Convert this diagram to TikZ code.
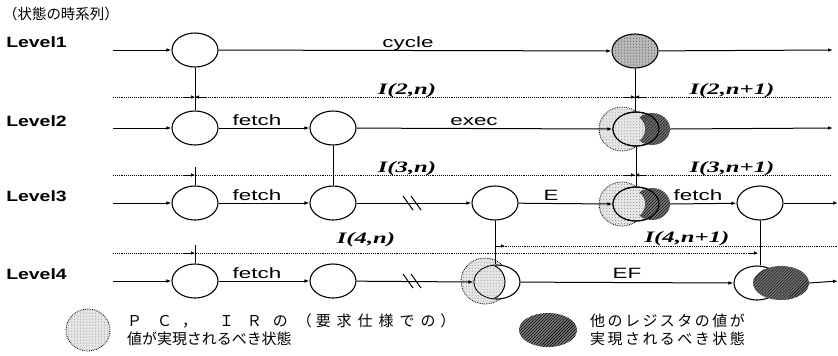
\documentclass[tikz,border=0pt]{standalone}
\usepackage{fontspec}
\setmainfont{Liberation Serif}
\newfontfamily\labfont{Liberation Sans}
\newfontfamily\cjk{Noto Sans CJK JP}
\usetikzlibrary{shapes.geometric,arrows.meta,patterns}
\begin{document}
\begin{tikzpicture}[x=1bp,y=-1bp,
  st/.style={ellipse,draw,line width=1.1bp,minimum width=46bp,minimum height=34bp,inner sep=0pt,fill=white},
  lightfill/.style={fill=black!10,postaction={pattern=dots,pattern color=black!45}},
  midfill/.style={fill=black!28,postaction={pattern=dots,pattern color=black!70}},
  darkfill/.style={fill=black!55,postaction={pattern=north east lines,pattern color=black}},
  dotc/.style={ellipse,draw,densely dotted,line width=0.8bp,inner sep=0pt,lightfill},
  darkell/.style={ellipse,inner sep=0pt,darkfill},
  conn/.style={line width=1bp,-{Latex[length=5bp,width=3.6bp]}},
  plain/.style={line width=1bp},
  dotl/.style={line width=0.9bp,densely dotted},
  tk/.style={line width=0.9bp,-{Latex[length=4bp,width=3.6bp]}},
  lvl/.style={font=\labfont\bfseries\fontsize{15}{15}\selectfont,xscale=1.3,anchor=west,inner sep=0pt},
  elab/.style={font=\labfont\fontsize{15}{15}\selectfont,xscale=1.5,inner sep=0pt,anchor=base},
  ilab/.style={font=\bfseries\itshape\fontsize{16}{16}\selectfont,xscale=1.55,inner sep=0pt,anchor=base},
  jtxt/.style={font=\cjk\fontsize{15}{15}\selectfont,inner sep=0pt,anchor=west},
]
\useasboundingbox (0,0) rectangle (838,355);

% title and level labels
\node[font=\cjk\fontsize{14.5}{14.5}\selectfont,inner sep=0pt,anchor=west] (title) at (3,14) {（状態の時系列）};
\node[lvl] (L1) at (6,42) {Level1};
\node[lvl] (L2) at (6,121) {Level2};
\node[lvl] (L3) at (6,196) {Level3};
\node[lvl] (L4) at (6,274) {Level4};

% start / end coordinates
\coordinate (s1) at (113,50);  \coordinate (e1) at (833,50);
\coordinate (s2) at (113,128); \coordinate (e2) at (833,128);
\coordinate (s3) at (113,203); \coordinate (e3) at (838,203);
\coordinate (s4) at (113,281); \coordinate (e4) at (838,281);

% dotted interval lines
\coordinate (d2a) at (113,97);  \coordinate (d2b) at (830,97);
\coordinate (d3a) at (113,175); \coordinate (d3b) at (830,175);
\coordinate (d4a) at (113,253); \coordinate (d4b) at (757,253);
\coordinate (d5a) at (497,246); \coordinate (d5b) at (838,246);
\draw[dotl] (d2a) -- (d2b);
\draw[dotl] (d3a) -- (d3b);
\draw[dotl] (d4a) -- (d4b);
\draw[dotl] (d5a) -- (d5b);

% Level 1
\node[st] (A1) at (195,50) {};
\node[st,midfill] (B1) at (635,51) {};
% Level 2
\node[st] (A2) at (195,128) {};
\node[st] (B2) at (333,128) {};
\node[dotc,minimum width=46bp,minimum height=44bp] (C2o) at (622,129) {};
\node[st,lightfill] (C2) at (636,129) {};
\node[darkell,minimum width=36bp,minimum height=32bp] (C2d) at (652,129) {};
\fill[lightfill] (629,129) ellipse [x radius=16, y radius=15];
\draw[line width=1.1bp] (636,129) ellipse [x radius=23, y radius=17];
% Level 3
\node[st] (A3) at (195,203) {};
\node[st] (B3) at (333,203) {};
\node[st] (C3) at (495,203) {};
\node[dotc,minimum width=46bp,minimum height=44bp] (D3o) at (622,204) {};
\node[st,lightfill] (D3) at (636,204) {};
\node[darkell,minimum width=36bp,minimum height=32bp] (D3d) at (652,204) {};
\fill[lightfill] (629,204) ellipse [x radius=16, y radius=15];
\draw[line width=1.1bp] (636,204) ellipse [x radius=23, y radius=17];
\node[st] (E3) at (760,203) {};
% Level 4
\node[st] (A4) at (195,281) {};
\node[st] (B4) at (333,281) {};
\node[dotc,minimum width=48bp,minimum height=46bp] (C4o) at (485,281) {};
\node[st] (C4) at (497,282) {};
\begin{scope}
  \clip (497,282) ellipse [x radius=22.5, y radius=16.5];
  \draw[lightfill,line width=1bp] (487,282) ellipse [x radius=18, y radius=18];
\end{scope}
\node[st] (D4) at (757,283) {};
\node[darkell,minimum width=56bp,minimum height=34bp] (D4d) at (781,283) {};

% horizontal connectors
\draw[conn] (s1) -- (A1);
\draw[conn] (A1) -- (B1);
\draw[conn] (B1) -- (e1);
\draw[conn] (s2) -- (A2);
\draw[conn] (A2) -- (B2);
\draw[conn] (B2) -- (C2.west);
\draw[conn] (C2d.east) -- (e2);
\draw[conn] (s3) -- (A3);
\draw[conn] (A3) -- (B3);
\draw[conn] (B3) -- (C3);
\draw[conn] (C3) -- (D3.west);
\draw[conn] (D3d.east) -- (E3);
\draw[conn] (E3) -- (e3);
\draw[conn] (s4) -- (A4);
\draw[conn] (A4) -- (B4);
\draw[conn] (B4) -- (C4.west);
\draw[conn] (C4) -- (D4.west);
\draw[conn] (D4d.east) -- (e4);

% break marks
\draw[plain] (403,196) -- (413,210) (411,196) -- (421,210);
\draw[plain] (403,274) -- (413,288) (411,274) -- (421,288);

% vertical connectors
\draw[plain] (A1.south) -- (A2.north);
\draw[plain] (B1.south) -- (B1.south |- C2.north);
\draw[plain] (B2.south) -- (B3.north);
\draw[plain] (C2.south) -- (C2.south |- D3.north);
\draw[plain] (C3.south) -- (C3.south |- C4.north);
\draw[plain] (E3.south) -- (E3.south |- D4.north);
\coordinate (a3t) at (195,167);
\coordinate (a4t) at (195,245);
\draw[plain] (A3.north) -- (a3t);
\draw[plain] (A4.north) -- (a4t);

% interval tick marks
\coordinate (t1l) at (184,97);  \coordinate (t1c) at (195,97);  \coordinate (t1r) at (206,97);
\coordinate (t2l) at (624,97);  \coordinate (t2c) at (635,97);  \coordinate (t2r) at (646,97);
\coordinate (t3l) at (184,175); \coordinate (t3c) at (195,175);
\coordinate (t4l) at (624,175); \coordinate (t4c) at (635,175); \coordinate (t4r) at (646,175);
\coordinate (t5l) at (184,253); \coordinate (t5c) at (195,253);
\coordinate (t6c) at (495,246); \coordinate (t6r) at (505,246);
\coordinate (t7l) at (748,253); \coordinate (t7c) at (758,253);
\draw[tk] (t1l) -- (t1c); \draw[tk] (t1r) -- (t1c);
\draw[tk] (t2l) -- (t2c); \draw[tk] (t2r) -- (t2c);
\draw[tk] (t3l) -- (t3c);
\draw[tk] (t4l) -- (t4c); \draw[tk] (t4r) -- (t4c);
\draw[tk] (t5l) -- (t5c);
\draw[tk] (t6c) -- (t6r);
\draw[tk] (t7l) -- (t7c);

% edge labels
\node[elab] (lcycle) at (408,47) {cycle};
\node[elab] (lf2) at (257,125) {fetch};
\node[elab] (lexec) at (474,125) {exec};
\node[elab] (lf3) at (257,200) {fetch};
\node[elab] (lE) at (551,200) {E};
\node[elab] (lf3b) at (698,200) {fetch};
\node[elab] (lf4) at (257,278) {fetch};
\node[elab] (lEF) at (627,278) {EF};

% interval labels
\node[ilab] (i2n) at (407,94) {I(2,n)};
\node[ilab] (i2n1) at (732,94) {I(2,n+1)};
\node[ilab] (i3n) at (407,172) {I(3,n)};
\node[ilab] (i3n1) at (732,172) {I(3,n+1)};
\node[ilab] (i4n) at (366,243) {I(4,n)};
\node[ilab] (i4n1) at (687,242) {I(4,n+1)};

% legend
\node[dotc,minimum width=44bp,minimum height=42bp] (lg1) at (88,330) {};
\node[jtxt] (lt1a) at (127,321) {Ｐ\kern15bpＣ\kern10bp，\kern22bpＩ\kern13bpＲ\kern11bpの\kern9bp（\kern4bp要\kern6bp求\kern6bp仕\kern6bp様\kern6bpで\kern6bpの\kern5bp）};
\node[jtxt] (lt1b) at (127,339) {値が実現されるべき状態};
\node[darkell,minimum width=58bp,minimum height=34bp] (lg2) at (548,330) {};
\node[jtxt] (lt2a) at (590,321) {他\kern2.5bpの\kern2.5bpレ\kern2.5bpジ\kern2.5bpス\kern2.5bpタ\kern2.5bpの\kern2.5bp値\kern2.5bpが};
\node[jtxt] (lt2b) at (590,339) {実\kern2.5bp現\kern2.5bpさ\kern2.5bpれ\kern2.5bpる\kern2.5bpべ\kern2.5bpき\kern2.5bp状\kern2.5bp態};
\end{tikzpicture}
\end{document}
